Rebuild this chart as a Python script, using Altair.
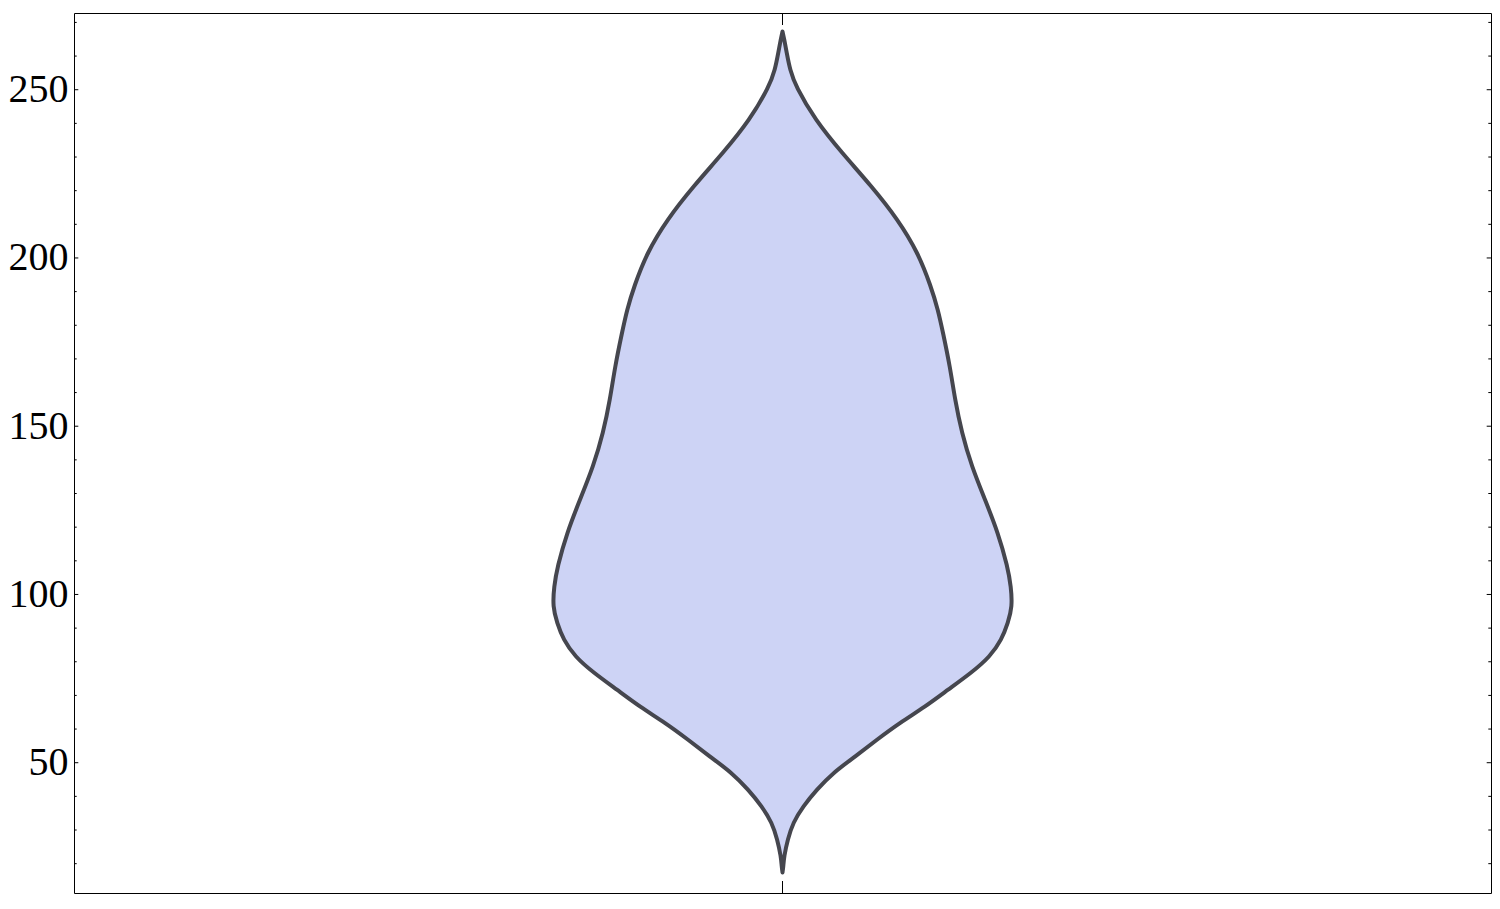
import altair as alt
import pandas as pd

# Violin outline: value (y) and half-width (density, arbitrary units)
values = [17.4, 19.0, 22.1, 27.2, 32.2, 37.0, 42.0, 47.0, 51.8, 56.8, 61.9, 66.6,
          71.7, 76.8, 81.5, 86.6, 91.6, 96.4, 102.3, 108.2, 118.4, 128.2, 138.0,
          148.1, 157.9, 167.7, 177.8, 184.6, 191.5, 201.6, 211.4, 221.3, 231.3,
          241.1, 251.0, 255.9, 261.0, 264.9, 267.3]
half_widths = [0, 0.8, 1.5, 5.2, 10.5, 20.5, 34.2, 50.5, 72.5, 94.2, 117.5, 142.5,
               165.5, 189.2, 207.5, 219.2, 225.5, 229.8, 228.5, 225.2, 215.5, 202.5,
               189.2, 179.2, 172.5, 167.5, 160.5, 155.5, 148.5, 135.5, 115.5, 89.2,
               59.2, 32.5, 13.2, 7.5, 4.2, 1.8, 0]

major_ticks = [50, 100, 150, 200, 250]
minor_ticks = [20, 30, 40, 60, 70, 80, 90, 110, 120, 130, 140, 160, 170, 180, 190,
               210, 220, 230, 240, 260, 270]
center = [0]

W = 1417
H = 880
Y_DOMAIN = [11.28, 272.8]
X_DOMAIN = [-708.5, 708.5]

violin_df = pd.DataFrame({"v": values, "w": half_widths})
major_df = pd.DataFrame({"v": major_ticks})
minor_df = pd.DataFrame({"v": minor_ticks})
center_df = pd.DataFrame({"c": center})

yscale = alt.Scale(domain=Y_DOMAIN, nice=False, zero=False)
xscale = alt.Scale(domain=X_DOMAIN, nice=False, zero=False)
yaxis = alt.Axis(values=major_ticks, ticks=False, domain=False, grid=False,
                 labelFont="Liberation Serif", labelFontSize=40,
                 labelColor="black", labelPadding=6, title=None)

violin = alt.Chart(violin_df).transform_calculate(
    lo="-datum.w", hi="datum.w"
).mark_area(
    orient="horizontal", interpolate="basis",
    fill="#cdd3f5", stroke="#45464e", strokeWidth=4, strokeJoin="round"
).encode(
    y=alt.Y("v:Q", scale=yscale, axis=yaxis),
    x=alt.X("lo:Q", scale=xscale, axis=None),
    x2="hi:Q",
)

def side_ticks(df, length):
    left = alt.Chart(df).mark_rule(color="black", strokeWidth=1).encode(
        y=alt.Y("v:Q", scale=yscale, axis=yaxis),
        x=alt.value(0), x2=alt.value(length),
    )
    right = alt.Chart(df).mark_rule(color="black", strokeWidth=1).encode(
        y=alt.Y("v:Q", scale=yscale, axis=yaxis),
        x=alt.value(W - length), x2=alt.value(W),
    )
    return [left, right]

top_tick = alt.Chart(center_df).mark_rule(color="black", strokeWidth=1).encode(
    x=alt.X("c:Q", scale=xscale, axis=None),
    y=alt.value(0), y2=alt.value(12),
)
bottom_tick = alt.Chart(center_df).mark_rule(color="black", strokeWidth=1).encode(
    x=alt.X("c:Q", scale=xscale, axis=None),
    y=alt.value(H - 12), y2=alt.value(H),
)

chart = alt.layer(
    violin, *side_ticks(major_df, 4.3), *side_ticks(minor_df, 2.7), top_tick, bottom_tick
).properties(
    width=W, height=H,
    autosize=alt.AutoSizeParams(type="none"),
    padding={"left": 66, "top": 5, "right": 1, "bottom": 1},
    background="white",
).configure_view(stroke="black", strokeWidth=1)

chart.save("out.html", embed_options={"renderer": "svg", "actions": False})
